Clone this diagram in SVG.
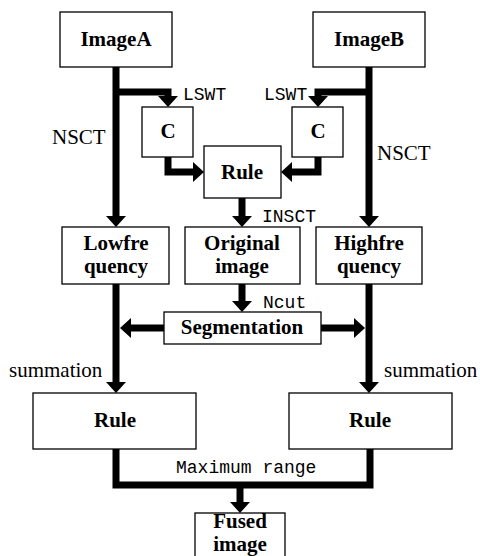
<svg xmlns="http://www.w3.org/2000/svg" width="480" height="556" viewBox="0 0 480 556">
<style>
.box{fill:#fff;stroke:#000;stroke-width:1.3}
.t{font-family:"Liberation Serif","Times New Roman",serif;font-weight:bold;font-size:21px;text-anchor:middle;fill:#000}
.s{font-family:"Liberation Serif","Times New Roman",serif;font-size:21px;fill:#000}
.m{font-family:"Liberation Mono","Courier New",monospace;font-size:18px;fill:#000}
.c{fill:none;stroke:#000;stroke-width:7;stroke-linejoin:miter;marker-end:url(#ah)}
.n{fill:none;stroke:#000;stroke-width:7;stroke-linejoin:miter}
</style>
<defs>
<marker id="ah" markerUnits="userSpaceOnUse" markerWidth="11" markerHeight="20" refX="0" refY="10" orient="auto" overflow="visible">
<path d="M0,0 L11,10 L0,20 z" fill="#000"/>
</marker>
</defs>
<rect width="480" height="556" fill="#fff"/>
<g id="connectors">
<path class="c" d="M116,67 V216"/>
<path class="c" d="M116,92 H168 V96"/>
<path class="c" d="M168,157 V172 H193"/>
<path class="c" d="M369,67 V216"/>
<path class="c" d="M369,92 H318 V96"/>
<path class="c" d="M318,157 V172 H292"/>
<path class="c" d="M242,198 V216"/>
<path class="c" d="M242,284 V301"/>
<path class="c" d="M116,284 V382"/>
<path class="c" d="M369,284 V382"/>
<path class="c" d="M164,328 H131"/>
<path class="c" d="M321,328 H354"/>
<path class="n" d="M116,449 V485 H370 V449"/>
<path class="c" d="M240,485 V502"/>
<text class="m" x="183" y="100" font-size="17">LSWT</text>
<text class="m" x="264" y="100" font-size="17">LSWT</text>
<text class="s" x="52" y="144">NSCT</text>
<text class="s" x="377" y="160">NSCT</text>
<text class="m" x="262" y="222" font-size="17">INSCT</text>
<text class="m" x="263" y="308">Ncut</text>
<text class="s" x="9" y="377">summation</text>
<text class="s" x="384" y="377">summation</text>
<text class="m" x="176" y="473">Maximum range</text>
</g>
<g id="imageA"><rect class="box" x="60" y="12" width="112" height="55"/><text class="t" x="116" y="46">ImageA</text></g>
<g id="imageB"><rect class="box" x="313" y="12" width="112" height="55"/><text class="t" x="369" y="46">ImageB</text></g>
<g id="cLeft"><rect class="box" x="142" y="107" width="51" height="50"/><text class="t" x="168" y="138">C</text></g>
<g id="cRight"><rect class="box" x="292" y="107" width="51" height="50"/><text class="t" x="318" y="138">C</text></g>
<g id="ruleTop"><rect class="box" x="204" y="146" width="77" height="52"/><text class="t" x="242" y="179">Rule</text></g>
<g id="lowfre"><rect class="box" x="62" y="227" width="107" height="57"/><text class="t" x="116" y="250">Lowfre</text><text class="t" x="116" y="273">quency</text></g>
<g id="original"><rect class="box" x="185" y="227" width="115" height="57"/><text class="t" x="242" y="250">Original</text><text class="t" x="242" y="273">image</text></g>
<g id="highfre"><rect class="box" x="316" y="227" width="106" height="57"/><text class="t" x="369" y="250">Highfre</text><text class="t" x="369" y="273">quency</text></g>
<g id="segmentation"><rect class="box" x="164" y="312" width="157" height="32"/><text class="t" x="242" y="334">Segmentation</text></g>
<g id="ruleLeft"><rect class="box" x="33" y="393" width="163" height="56"/><text class="t" x="115" y="427">Rule</text></g>
<g id="ruleRight"><rect class="box" x="289" y="393" width="163" height="56"/><text class="t" x="370" y="427">Rule</text></g>
<g id="fused"><rect class="box" x="195" y="513" width="90" height="50"/><text class="t" x="240" y="528" font-size="19">Fused</text><text class="t" x="240" y="551" font-size="19">image</text></g>
</svg>
